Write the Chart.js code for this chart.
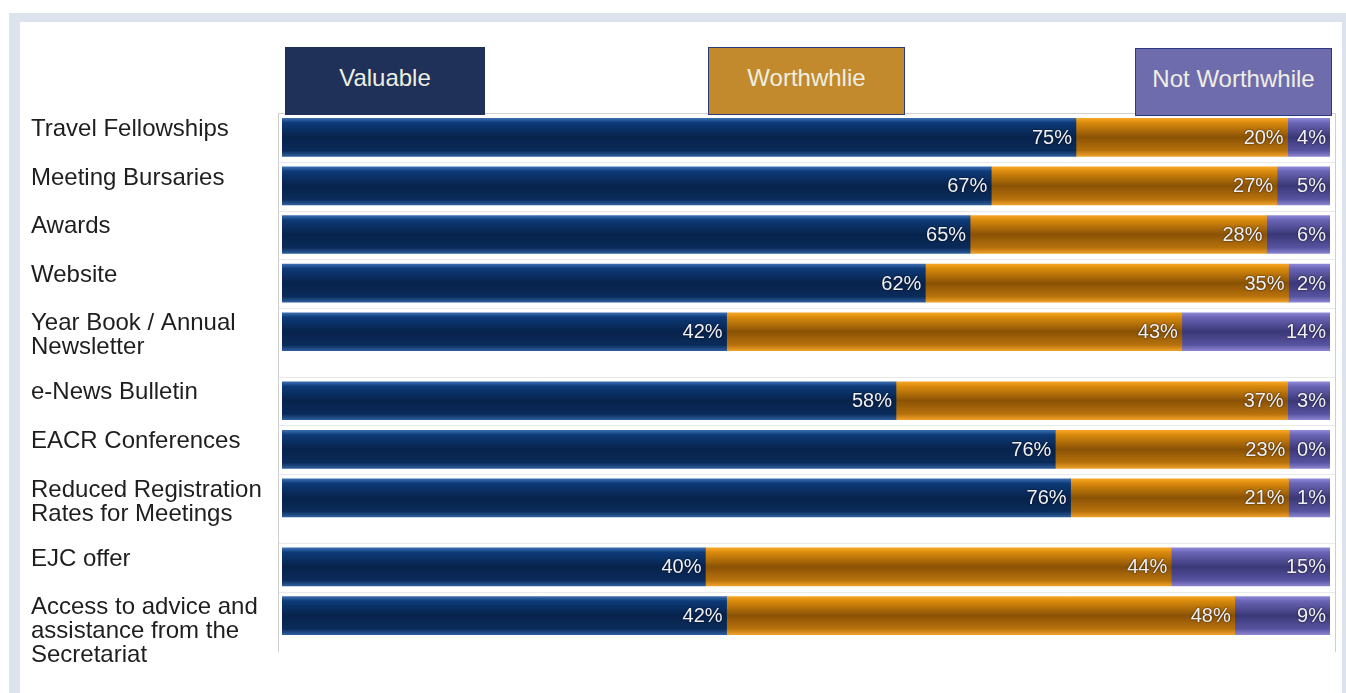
<!DOCTYPE html>
<html>
<head>
<meta charset="utf-8">
<script src="https://cdn.jsdelivr.net/npm/chart.js@4/dist/chart.umd.min.js"></script>
<style>
  html, body { margin: 0; padding: 0; background: #fff; }
  body { width: 1346px; height: 693px; position: relative; overflow: hidden; font-family: "Liberation Sans", Arial, sans-serif; }
  #frame { position: absolute; left: 9px; top: 13px; width: 1337px; height: 680px; background: #dde3ed; }
  #panel { position: absolute; left: 20px; top: 22px; width: 1322px; height: 671px; background: #fff; }
  #chart { position: absolute; left: 20px; top: 22px; }
  .key { position: absolute; box-sizing: border-box; height: 68px; line-height: 60px; text-align: center;
         font-size: 24px; color: #eeeee2; }
</style>
</head>
<body>
<div id="frame"></div>
<div id="panel"></div>
<canvas id="chart" width="1322" height="671"></canvas>
<div id="keys"></div>
<script>
/* ---- data ---- */
var categories = [
  ['Travel Fellowships'],
  ['Meeting Bursaries'],
  ['Awards'],
  ['Website'],
  ['Year Book / Annual', 'Newsletter'],
  ['e-News Bulletin'],
  ['EACR Conferences'],
  ['Reduced Registration', 'Rates for Meetings'],
  ['EJC offer'],
  ['Access to advice and', 'assistance from the', 'Secretariat']
];
var seriesNames = ['Valuable', 'Worthwhlie', 'Not Worthwhile'];
var valuable      = [75, 67, 65, 62, 42, 58, 76, 76, 40, 42];
var worthwhile    = [20, 27, 28, 35, 43, 37, 23, 21, 44, 48];
var notWorthwhile = [4, 5, 6, 2, 14, 3, 0, 1, 15, 9];

var keyColors = ['#1f3158', '#c28a2c', '#6f6cae'];
var keyBorders = ['#1f3158', '#2a3b7a', '#2b3a80'];
var keyBoxes = [[285, 47, 200], [708, 47, 197], [1135, 48, 197]];

// gradients: light edge, dark middle, light edge
var stops = [
  ['#3a6db0', '#0d3a78', '#07234c', '#0a2b5a', '#2d5d9c'],
  ['#f6a623', '#d98a0c', '#8a5205', '#b8720c', '#eea02a'],
  ['#8f88d8', '#6a64b4', '#3b3878', '#5853a0', '#8a84d0']
];

/* ---- row positions: two/three line labels take a bit more room ---- */
var rowPos = [];
var acc = 0;
categories.forEach(function(lines, i) {
  rowPos.push(acc);
  acc += 1 + 0.42 * (lines.length - 1);
});

// the small segment always keeps room for its label, the bar fills the width
var raw = [valuable, worthwhile, notWorthwhile];
var plotted = [[], [], []];
for (var j = 0; j < categories.length; j++) {
  var nw = Math.max(notWorthwhile[j], 4);
  var k = 100 / (valuable[j] + worthwhile[j] + nw);
  plotted[0].push({ x: valuable[j] * k, y: rowPos[j] });
  plotted[1].push({ x: worthwhile[j] * k, y: rowPos[j] });
  plotted[2].push({ x: nw * k, y: rowPos[j] });
}

/* ---- key boxes ---- */
var keys = document.getElementById('keys');
seriesNames.forEach(function(name, i) {
  var d = document.createElement('div');
  d.className = 'key';
  d.textContent = name;
  d.style.left = keyBoxes[i][0] + 'px';
  d.style.top = keyBoxes[i][1] + 'px';
  d.style.width = keyBoxes[i][2] + 'px';
  d.style.background = keyColors[i];
  d.style.border = '1.5px solid ' + keyBorders[i];
  keys.appendChild(d);
});

var BAR_H = 38;

function barFill(series) {
  return function(c) {
    var s = c.chart.scales && c.chart.scales.y;
    if (!s || !c.raw) return stops[series][2];
    var mid = s.getPixelForValue(c.raw.y);
    if (!isFinite(mid)) return stops[series][2];
    var g = c.chart.ctx.createLinearGradient(0, mid - BAR_H / 2, 0, mid + BAR_H / 2);
    var st = stops[series];
    g.addColorStop(0, st[0]);
    g.addColorStop(0.12, st[1]);
    g.addColorStop(0.5, st[2]);
    g.addColorStop(0.85, st[3]);
    g.addColorStop(1, st[4]);
    return g;
  };
}

var framePlugin = {
  id: 'frame',
  beforeDatasetsDraw: function(chart) {
    var a = chart.chartArea, ctx = chart.ctx, y = chart.scales.y;
    var l = a.left - 4, r = a.right + 5;
    ctx.save();
    // row separators
    ctx.strokeStyle = '#e9e9e9';
    ctx.lineWidth = 1;
    for (var i = 1; i < rowPos.length; i++) {
      var py = Math.round(y.getPixelForValue(rowPos[i]) - BAR_H / 2 - 5) + 0.5;
      ctx.beginPath(); ctx.moveTo(l, py); ctx.lineTo(r, py); ctx.stroke();
    }
    ctx.strokeStyle = '#cfcfcf';
    ctx.beginPath();
    ctx.moveTo(l + 0.5, a.bottom);
    ctx.lineTo(l + 0.5, a.top + 0.5);
    ctx.lineTo(r + 0.5, a.top + 0.5);
    ctx.lineTo(r + 0.5, a.bottom);
    ctx.stroke();
    ctx.restore();
  },
  afterDatasetsDraw: function(chart) {
    var ctx = chart.ctx;
    ctx.save();
    ctx.font = '20px "Liberation Sans", Arial, sans-serif';
    ctx.textAlign = 'right';
    ctx.textBaseline = 'middle';
    ctx.fillStyle = '#f0f0f6';
    ctx.shadowColor = 'rgba(0,0,0,0.8)';
    ctx.shadowBlur = 2;
    chart.data.datasets.forEach(function(ds, i) {
      chart.getDatasetMeta(i).data.forEach(function(el, j) {
        ctx.fillText(raw[i][j] + '%', el.x - 4, el.y + 1);
      });
    });
    ctx.restore();

    // category labels
    var y = chart.scales.y;
    ctx.save();
    ctx.font = '24px "Liberation Sans", Arial, sans-serif';
    ctx.fillStyle = '#1e1e1e';
    ctx.textAlign = 'left';
    ctx.textBaseline = 'middle';
    categories.forEach(function(lines, j) {
      var py = y.getPixelForValue(rowPos[j]) - 8;
      lines.forEach(function(t, n) {
        ctx.fillText(t, 11, py + n * 24);
      });
    });
    ctx.restore();
  }
};

new Chart(document.getElementById('chart'), {
  type: 'bar',
  data: {
    datasets: seriesNames.map(function(name, i) {
      return {
        label: name,
        data: plotted[i],
        backgroundColor: barFill(i),
        borderWidth: 0,
        barThickness: BAR_H
      };
    })
  },
  options: {
    indexAxis: 'y',
    responsive: false,
    animation: false,
    devicePixelRatio: 1,
    layout: { padding: { left: 262, right: 12, top: 91, bottom: 41 } },
    plugins: { legend: { display: false }, tooltip: { enabled: false } },
    scales: {
      x: { type: 'linear', stacked: true, min: 0, max: 100, display: false },
      y: { type: 'linear', stacked: true, reverse: true, offset: false,
           min: -0.5, max: 10.59, display: false }
    }
  },
  plugins: [framePlugin]
});
</script>
</body>
</html>
